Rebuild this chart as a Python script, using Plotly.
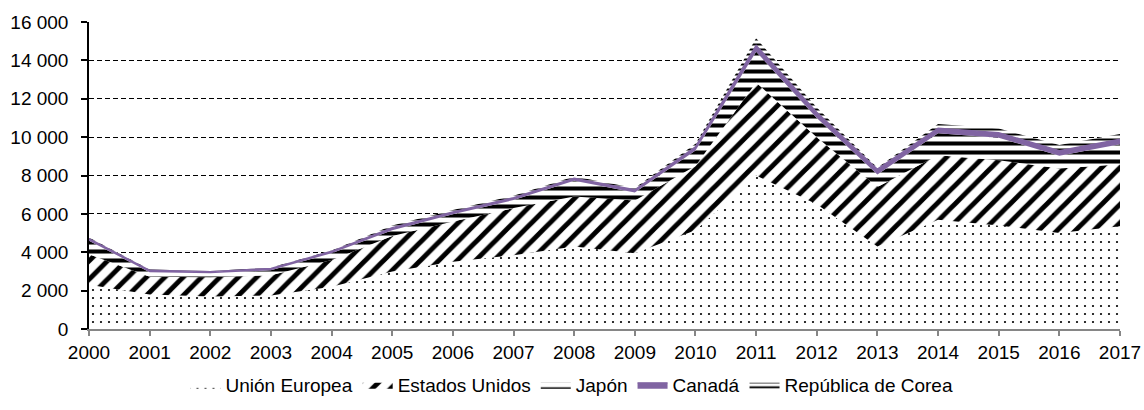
import plotly.graph_objects as go

years = list(range(2000, 2018))
union_europea = [2300, 1800, 1700, 1750, 2200, 3000, 3500, 3850, 4300, 3950, 5150, 8000, 6500, 4300, 5700, 5400, 5000, 5350]
estados_unidos = [1600, 920, 1000, 1050, 1390, 1850, 2100, 2450, 2600, 2750, 3350, 4850, 3500, 3100, 3360, 3400, 3370, 3240]
japon = [700, 240, 200, 260, 360, 300, 380, 420, 820, 420, 800, 1600, 1000, 650, 1140, 1170, 660, 1040]
canada = [110, 100, 90, 100, 100, 130, 120, 120, 140, 140, 200, 330, 300, 280, 260, 260, 260, 260]
corea = [60, 40, 30, 40, 40, 120, 100, 110, 90, 90, 150, 370, 250, 70, 230, 220, 300, 270]

names = ["Unión Europea", "Estados Unidos", "Japón", "Canadá", "República de Corea"]
PURPLE = "#8064A2"
FONT = "Liberation Sans, Arial, sans-serif"

fig = go.Figure()

fig.add_trace(go.Scatter(
    x=years, y=union_europea, name=names[0], stackgroup="one", mode="lines",
    line=dict(width=0, color="black"), fillcolor="white",
    fillpattern=dict(shape=".", fgcolor="black", bgcolor="white", fgopacity=1,
                     size=8, solidity=0.06),
))
fig.add_trace(go.Scatter(
    x=years, y=estados_unidos, name=names[1], stackgroup="one", mode="lines",
    line=dict(width=0, color="black"), fillcolor="white",
    fillpattern=dict(shape="/", fgcolor="black", bgcolor="white", fgopacity=1,
                     size=13, solidity=0.38),
))
fig.add_trace(go.Scatter(
    x=years, y=japon, name=names[2], stackgroup="one", mode="lines",
    line=dict(width=0, color="black"), fillcolor="white",
    fillpattern=dict(shape="-", fgcolor="black", bgcolor="white", fgopacity=1,
                     size=9, solidity=0.45),
))
fig.add_trace(go.Scatter(
    x=years, y=canada, name=names[3], stackgroup="one", mode="lines",
    line=dict(width=1.4, color=PURPLE), fillcolor=PURPLE,
))
fig.add_trace(go.Scatter(
    x=years, y=corea, name=names[4], stackgroup="one", mode="lines",
    line=dict(width=0, color="black"), fillcolor="white",
    fillpattern=dict(shape="-", fgcolor="black", bgcolor="white", fgopacity=1,
                     size=5, solidity=0.4),
))

fig.update_layout(
    width=1144, height=410,
    margin=dict(l=89, r=24, t=22, b=81, autoexpand=False),
    paper_bgcolor="white", plot_bgcolor="white",
    separators=", ",
    font=dict(family=FONT, size=19, color="black"),
    showlegend=True,
    legend=dict(
        orientation="h", xref="container", yref="container",
        x=0.5, xanchor="center", y=0.061, yanchor="middle",
        traceorder="normal",
        font=dict(family=FONT, size=19, color="black"),
        bgcolor="rgba(0,0,0,0)",
    ),
    hovermode=False,
)

fig.update_xaxes(
    range=[2000, 2017], tickmode="linear", tick0=2000, dtick=1,
    showgrid=False, zeroline=False, automargin=False,
    showline=True, linecolor="#868686", linewidth=1.5,
    ticks="outside", ticklen=5, tickcolor="#868686", tickwidth=1.5,
    tickfont=dict(family=FONT, size=19, color="black"),
)
fig.update_yaxes(
    range=[0, 16000], tickmode="linear", tick0=0, dtick=2000,
    tickformat=",d", automargin=False,
    showgrid=True, gridcolor="black", gridwidth=1, griddash="5px,3px",
    zeroline=False,
    showline=True, linecolor="black", linewidth=1.5,
    ticks="outside", ticklen=6, tickcolor="black", tickwidth=1.5,
    ticklabelstandoff=9,
    tickfont=dict(family=FONT, size=19, color="black"),
)

fig.write_html("out.html")
